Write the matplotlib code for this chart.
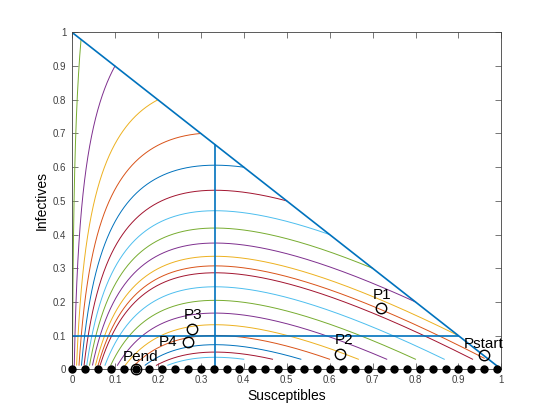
# SIR phase plane: susceptibles vs infectives
import numpy as np
import matplotlib.pyplot as plt

plt.rcParams['font.family'] = ['Liberation Sans', 'DejaVu Sans']

# ===== Data =====
sigma = 3.0  # contact number, threshold at s = 1/sigma

# trajectories starting on the line s + i = 1
diag_s0 = [0.9, 0.8, 0.7, 0.6, 0.5, 0.4, 0.3, 0.2, 0.1, 0.021]
# trajectories starting with a small number of infectives
low_s0 = [0.4, 0.467, 0.533, 0.6, 0.667, 0.733, 0.8, 0.867, 0.933]
low_i0 = 0.03
# trajectory through Pstart
start_s0, start_i0 = 0.96, 0.033

# equilibria on the s axis
eq_s = np.round(np.arange(0, 1.0, 0.03), 2)

point_names = ["Pstart", "P1", "P2", "P3", "P4", "Pend"]
point_s = [0.959, 0.720, 0.625, 0.280, 0.270, 0.148]
point_i = [0.042, 0.181, 0.047, 0.121, 0.081, 0.0]

ticks = [0, 0.1, 0.2, 0.3, 0.4, 0.5, 0.6, 0.7, 0.8, 0.9, 1]
tick_labels = ["0", "0.1", "0.2", "0.3", "0.4", "0.5", "0.6", "0.7", "0.8", "0.9", "1"]

# ===== MATLAB colour order =====
C1, C2, C3, C4 = "#0072BD", "#D95319", "#EDB120", "#7E2F8E"
C5, C6, C7 = "#77AC30", "#4DBEEE", "#A2142F"
diag_colors = [C3, C4, C5, C6, C7, C1, C2, C3, C4, C5]
low_colors = [C6, C7, C1, C2, C3, C4, C5, C6, C7]


def trajectory(s0, i0, i_stop=0.012):
    # conserved quantity of the SIR model: i + s - ln(s)/sigma
    s = np.geomspace(s0, 1e-6, 4000)
    i = s0 + i0 - s + np.log(s / s0) / sigma
    keep = i >= i_stop
    n = np.argmin(keep) if not keep.all() else len(s)
    return s[:n], i[:n]


fig = plt.figure(figsize=(5.54, 4.15), dpi=100)
ax = fig.add_axes([0.13, 0.11, 0.775, 0.812])

for s0, c in zip(diag_s0, diag_colors):
    s, i = trajectory(s0, 1 - s0)
    ax.plot(s, i, color=c, lw=0.7)

for s0, c in zip(low_s0, low_colors):
    s, i = trajectory(s0, low_i0)
    ax.plot(s, i, color=c, lw=0.7)

s, i = trajectory(start_s0, start_i0)
ax.plot(s, i, color=C2, lw=0.7)

# triangle edge, threshold and i = 0.1 lines
ax.plot([0, 1], [1, 0], color=C1, lw=1.2)
ax.plot([1 / sigma, 1 / sigma], [0, 1 - 1 / sigma], color=C1, lw=1.2)
ax.plot([0, 0.9], [0.1, 0.1], color=C1, lw=1.2)

# equilibria
ax.plot(eq_s, np.zeros_like(eq_s), "o", color="k", ms=5, clip_on=False, zorder=5)

# marked points
ax.plot(point_s, point_i, "o", mfc="none", mec="k", ms=7.5, mew=1.0,
        clip_on=False, zorder=6)
label_s = [0.959, 0.723, 0.634, 0.283, 0.224, 0.160]
label_i = [0.076, 0.220, 0.086, 0.160, 0.081, 0.037]
for name, x, y in zip(point_names, label_s, label_i):
    ax.text(x, y, name, fontsize=11, ha="center", va="center", zorder=7)

ax.set_xlim(0, 1)
ax.set_ylim(0, 1)
ax.set_xticks(ticks)
ax.set_xticklabels(tick_labels)
ax.set_yticks(ticks)
ax.set_yticklabels(tick_labels)
ax.tick_params(direction="in", top=True, right=True, length=4, width=0.5,
               labelsize=7, colors="0.25", pad=4)
for sp in ax.spines.values():
    sp.set_color("0.25")
    sp.set_linewidth(0.6)
ax.set_xlabel("Susceptibles", fontsize=10, labelpad=3)
ax.set_ylabel("Infectives", fontsize=10, labelpad=3)

fig.savefig("out.png", dpi=100)
